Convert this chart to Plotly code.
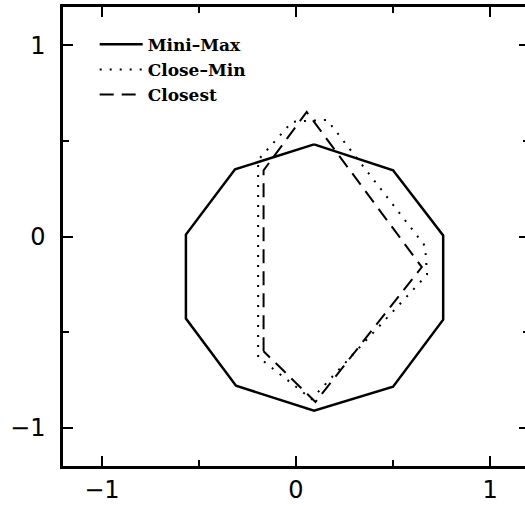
import plotly.graph_objects as go

# Data (closed polygons)
minimax_x = [0.093, 0.50, 0.758, 0.758, 0.50, 0.093, -0.309, -0.567, -0.567, -0.314, 0.093]
minimax_y = [0.482, 0.346, 0.005, -0.435, -0.785, -0.911, -0.780, -0.429, 0.010, 0.351, 0.482]

closemin_x = [-0.195, -0.195, -0.02, 0.16, 0.665, 0.675, 0.08, -0.195]
closemin_y = [-0.63, 0.40, 0.60, 0.61, -0.05, -0.20, -0.85, -0.63]

closest_x = [-0.167, -0.167, 0.055, 0.648, 0.10, -0.167]
closest_y = [-0.60, 0.346, 0.651, -0.16, -0.865, -0.60]

names = ["Mini\u2013Max", "Close\u2013Min", "Closest"]
tick_vals = [-1, 0, 1]
tick_text = ["\u22121", "0", "1"]

fig = go.Figure()
fig.add_trace(go.Scatter(x=minimax_x, y=minimax_y, mode="lines", name=names[0],
                         line=dict(color="black", width=2.5)))
fig.add_trace(go.Scatter(x=closemin_x, y=closemin_y, mode="lines", name=names[1],
                         line=dict(color="black", width=2, dash="2px,8px")))
fig.add_trace(go.Scatter(x=closest_x, y=closest_y, mode="lines", name=names[2],
                         line=dict(color="black", width=2, dash="14px,8px")))

minor_ticks = dict(dtick=0.5, tick0=0, ticks="inside", ticklen=6, tickwidth=2, tickcolor="black")
axis_common = dict(
    showgrid=False, zeroline=False, ticks="inside", ticklen=10, tickwidth=2,
    tickcolor="black", showline=True, linecolor="black", linewidth=2.5,
    tickmode="array", tickvals=tick_vals, ticktext=tick_text, mirror="ticks",
    tickfont=dict(family="DejaVu Sans", size=24, color="black"),
    minor=minor_ticks,
)

fig.update_layout(
    width=529, height=511,
    margin=dict(l=63, r=0, t=7, b=45, autoexpand=False),
    paper_bgcolor="white", plot_bgcolor="white",
    xaxis=dict(range=[-1.2, 1.2], **axis_common),
    yaxis=dict(range=[-1.2, 1.2], ticklabelstandoff=10, **axis_common),
    showlegend=True,
    legend=dict(x=0.068, y=0.957, xanchor="left", yanchor="top",
                bgcolor="rgba(0,0,0,0)", borderwidth=0, itemwidth=43,
                font=dict(family="DejaVu Serif", size=17, color="black", weight="bold"),
                tracegroupgap=0),
)

fig.write_html("out.html", config={"displayModeBar": False},
               post_script="document.body.style.margin='0';document.body.style.overflow='hidden';")
